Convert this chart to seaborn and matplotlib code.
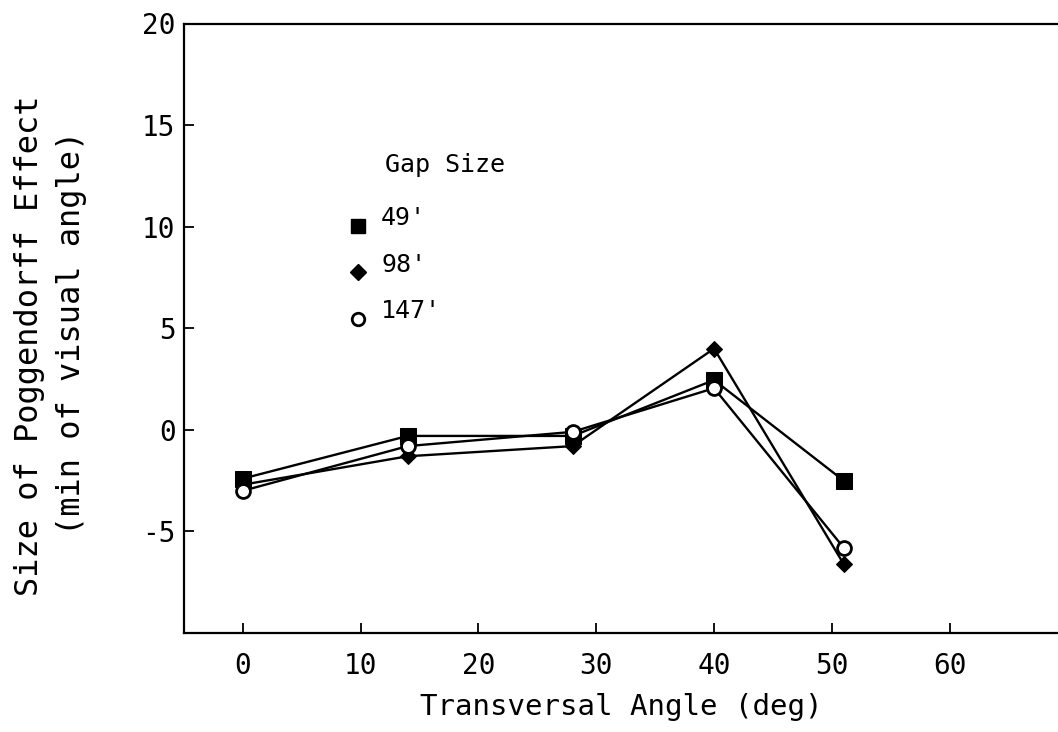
import matplotlib
matplotlib.use("Agg")
import matplotlib.pyplot as plt
from matplotlib.lines import Line2D
from matplotlib.legend_handler import HandlerLine2D
import seaborn as sns
import pandas as pd

# Transversal angle (deg) at which the effect was measured
angles = [0, 14, 28, 40, 51]

# Poggendorff effect (min of visual angle) for each gap size
gap_49 = [-2.4, -0.3, -0.3, 2.45, -2.5]
gap_98 = [-2.7, -1.3, -0.8, 4.0, -6.6]
gap_147 = [-3.0, -0.8, -0.1, 2.05, -5.8]

gap_labels = ["49'", "98'", "147'"]
x_ticks = [0, 10, 20, 30, 40, 50, 60]
y_ticks = [-5, 0, 5, 10, 15, 20]

sns.set_theme(style="white")
plt.rcParams["font.family"] = ["DejaVu Sans Mono", "DejaVu Sans"]
plt.rcParams["axes.unicode_minus"] = False
plt.rcParams["text.color"] = "black"

df = pd.DataFrame({
    "angle": angles * 3,
    "effect": gap_49 + gap_98 + gap_147,
    "gap": [g for g in gap_labels for _ in angles],
})

W, H = 1058, 732
fig = plt.figure(figsize=(W / 100, H / 100), dpi=100)
ax = fig.add_axes([184 / W, 1 - 633 / H, 1 - 184 / W, (633 - 23.5) / H])

styles = {
    "49'": dict(marker="s", markersize=11, markerfacecolor="black"),
    "98'": dict(marker="D", markersize=8.5, markerfacecolor="black"),
    "147'": dict(marker="o", markersize=10, markerfacecolor="white", markeredgewidth=2),
}

for g in gap_labels:
    sub = df[df["gap"] == g]
    sns.lineplot(data=sub, x="angle", y="effect", ax=ax, color="black",
                 linewidth=1.7, markeredgecolor="black", legend=False,
                 **styles[g])

ax.set_xlim(-5, 69.2)
ax.set_ylim(-10, 20)
ax.set_xticks(x_ticks)
ax.set_yticks(y_ticks)

for side in ["left", "top", "bottom"]:
    ax.spines[side].set_color("black")
    ax.spines[side].set_linewidth(1.6)
ax.spines["right"].set_visible(False)

ax.tick_params(axis="both", direction="in", length=7, width=1.3, colors="black",
               labelsize=20, left=True, bottom=True)
ax.tick_params(axis="x", pad=14)
ax.tick_params(axis="y", pad=6)

ax.set_xlabel("Transversal Angle (deg)", fontsize=21, color="black", labelpad=9)
ax.set_ylabel("")

fig.text(30 / W, 1 - 346 / H, "Size of Poggendorff Effect", rotation=90,
         ha="center", va="center", fontsize=23, color="black")
fig.text(72 / W, 1 - 333 / H, "(min of visual angle)", rotation=90,
         ha="center", va="center", fontsize=23, color="black")


class LowMarkerHandler(HandlerLine2D):
    """Draws the key marker a little below the middle of its label."""

    def create_artists(self, legend, orig_handle, xdescent, ydescent,
                       width, height, fontsize, trans):
        return super().create_artists(legend, orig_handle, xdescent,
                                      ydescent + 14, width, height,
                                      fontsize, trans)


# Legend: title and marker key for gap sizes
fig.text(385 / W, 1 - 165 / H, "Gap Size", ha="left", va="center",
         fontsize=18, color="black")
handles = [
    Line2D([], [], linestyle="none", color="black", markeredgecolor="black",
           **{k: v for k, v in styles[g].items() if k != "markersize"},
           markersize=styles[g]["markersize"] * 0.9)
    for g in gap_labels
]
leg = ax.legend(handles, gap_labels, loc="upper left",
                bbox_to_anchor=(345 / W, 1 - 206 / H),
                bbox_transform=fig.transFigure, frameon=False,
                fontsize=18, handlelength=1.0, handletextpad=0.45,
                labelspacing=0.9, borderpad=0, borderaxespad=0,
                handler_map={Line2D: LowMarkerHandler()})
for t in leg.get_texts():
    t.set_color("black")

fig.savefig("out.png", dpi=100, facecolor="white")
